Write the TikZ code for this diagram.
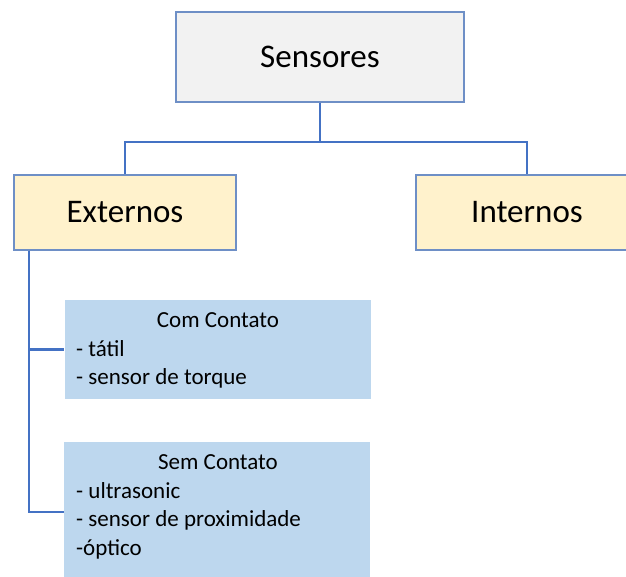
\documentclass[tikz,border=0pt]{standalone}
\usepackage{fontspec}
\setmainfont{Carlito}
\definecolor{boxline}{HTML}{6E8FC6}
\definecolor{greyfill}{HTML}{F2F2F2}
\definecolor{yellowfill}{HTML}{FFF2CC}
\definecolor{bluefill}{HTML}{BDD7EE}
\definecolor{linkblue}{HTML}{4472C4}
\tikzset{
  topbox/.style={draw=boxline, line width=1.3pt, fill=greyfill, minimum width=288pt, minimum height=90pt, inner sep=0pt, font=\fontsize{33pt}{40pt}\selectfont},
  groupbox/.style={draw=boxline, line width=1.3pt, fill=yellowfill, minimum width=222pt, minimum height=75pt, inner sep=0pt, font=\fontsize{33pt}{40pt}\selectfont},
  listbox/.style={fill=bluefill, minimum width=306pt, inner sep=0pt},
  listtitle/.style={anchor=base, inner sep=0pt, font=\fontsize{23pt}{28pt}\selectfont},
  listitem/.style={anchor=base west, inner sep=0pt, font=\fontsize{23pt}{28pt}\selectfont},
  link/.style={draw=linkblue, line width=2.2pt}
}
\begin{document}
\begin{tikzpicture}[x=1pt, y=-1pt]
  \useasboundingbox (0,0) rectangle (626,577);
  \clip (0,0) rectangle (626,577);

  % boxes
  \node[topbox] (sens) at (320,57) {Sensores};
  \node[groupbox] (ext) at (125,212.5) {Externos};
  \node[groupbox] (int) at (527,212.5) {Internos};
  \node[listbox, minimum height=99pt] (com) at (217.5,349.5) {};
  \node[listbox, minimum height=140pt] (sem) at (217,512) {};

  % tree connectors
  \coordinate (hub) at ([yshift=-39pt]sens.south);
  \draw[link] (sens.south) -- (hub) -| (ext.north);
  \draw[link] (hub) -| (int.north);
  \coordinate (trunk) at ([xshift=16pt]ext.south west);
  \draw[link] (trunk) |- (com.west);
  \draw[link] (trunk) |- (sem.west);

  % contact sensors
  \node[listtitle] (comtitle) at (218,327) {Com Contato};
  \node[listitem] (com1) at (76,356) {- tátil};
  \node[listitem] (com2) at (76,384.5) {- sensor de torque};

  % contactless sensors
  \node[listtitle] (semtitle) at (218,469) {Sem Contato};
  \node[listitem] (sem1) at (76,498) {- ultrasonic};
  \node[listitem] (sem2) at (76,526.5) {- sensor de proximidade};
  \node[listitem] (sem3) at (76,555) {-óptico};
\end{tikzpicture}
\end{document}
